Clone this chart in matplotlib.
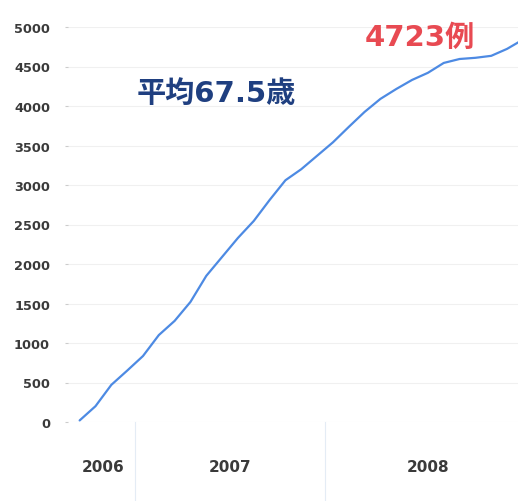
import matplotlib
matplotlib.use("Agg")
import matplotlib.pyplot as plt

# cumulative case count, one value per month (Sep 2006 .. Jan 2009)
years = [2006] * 4 + [2007] * 12 + [2008] * 12 + [2009]
months = [9, 10, 11, 12] + list(range(1, 13)) + list(range(1, 13)) + [1]
cases = [20, 200, 470, 650, 835, 1100, 1280, 1520, 1850, 2090, 2330, 2545,
         2810, 3060, 3200, 3370, 3540, 3735, 3925, 4090, 4215, 4330, 4420,
         4545, 4595, 4610, 4635, 4723, 4840]

y_ticks = list(range(0, 5001, 500))
year_labels = ["2006", "2007", "2008"]
year_label_pos = [2006.83, 2007.5, 2008.54]
year_bounds = [2007, 2008]

total_label = "4723例"
age_label = "平均67.5歳"

# mid-month position on a fractional-year axis
x = [y + (m - 0.5) / 12 for y, m in zip(years, months)]

fig = plt.figure(figsize=(5.18, 5.02), dpi=100)
ax = fig.add_axes([68 / 518, 79 / 502, 450 / 518, 395 / 502])

ax.plot(x, cases, color="#4d8ae3", linewidth=1.6, solid_capstyle="round")

ax.set_xlim(2006.647, 2009.016)
ax.set_ylim(0, 5000)

for s in ax.spines.values():
    s.set_visible(False)

ax.set_yticks(y_ticks)
ax.set_yticklabels([str(v) for v in y_ticks], fontsize=9.3, fontweight="bold",
                   color="#3a3a3a", family="DejaVu Sans")
ax.tick_params(axis="y", length=2, color="#cccccc", pad=11)
ax.grid(axis="y", color="#f0f0f0", linewidth=0.8)
ax.set_xticks([])

# year bands under the axis
for b in year_bounds:
    ax.axvline(b, ymin=-0.2, ymax=0, color="#e4ecf5", linewidth=0.8, clip_on=False)
for lbl, pos in zip(year_labels, year_label_pos):
    ax.text(pos, -560, lbl, ha="center", va="center", fontsize=11,
            fontweight="bold", color="#3a3a3a", family="DejaVu Sans")

# digits from DejaVu, kanji fall back to Noto CJK
ax.text(2007.43, 4165, age_label, ha="center", va="center", fontsize=21,
        fontweight="bold", color="#1f3f80",
        family=["DejaVu Sans", "Noto Sans CJK JP"])
ax.text(2008.5, 4875, total_label, ha="center", va="center", fontsize=21,
        fontweight="bold", color="#e84a52",
        family=["DejaVu Sans", "Noto Sans CJK JP"])

fig.savefig("out.png", dpi=100)
